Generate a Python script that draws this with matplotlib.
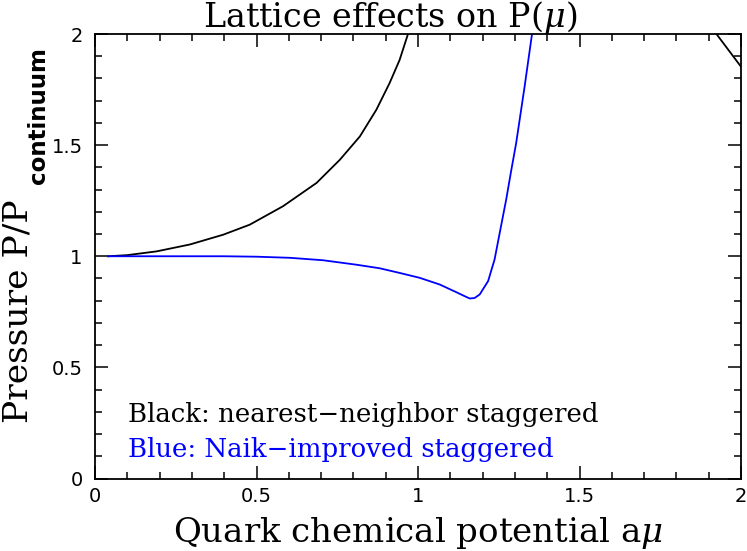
import numpy as np
import matplotlib
matplotlib.use("Agg")
import matplotlib.pyplot as plt
from matplotlib.ticker import MultipleLocator

# values (NaN splits the off-scale gap)
mu_black = [0.041, 0.100, 0.191, 0.294, 0.397, 0.479, 0.582, 0.686, 0.758,
            0.820, 0.871, 0.912, 0.943, 0.969, np.nan, 1.924, 2.000]
p_black = [1.000, 1.005, 1.022, 1.053, 1.097, 1.142, 1.225, 1.330, 1.434,
           1.539, 1.659, 1.779, 1.883, 2.000, np.nan, 2.000, 1.853]

mu_blue = [0.041, 0.200, 0.397, 0.500, 0.603, 0.706, 0.809, 0.881, 0.943,
           1.005, 1.067, 1.119, 1.145, 1.160, 1.175, 1.191, 1.217, 1.237,
           1.253, 1.273, 1.289, 1.304, 1.330, 1.353]
p_blue = [1.000, 1.000, 1.000, 0.998, 0.993, 0.982, 0.962, 0.946, 0.925,
          0.903, 0.873, 0.838, 0.820, 0.810, 0.812, 0.828, 0.888, 0.985,
          1.105, 1.255, 1.389, 1.510, 1.763, 2.000]

ticks = [0, 0.5, 1, 1.5, 2]
tick_labels = ["0", "0.5", "1", "1.5", "2"]

plt.rcParams.update({
    "font.family": "DejaVu Serif",
    "mathtext.fontset": "dejavuserif",
    "xtick.direction": "in",
    "ytick.direction": "in",
    "xtick.top": True,
    "ytick.right": True,
})

W, H = 747, 551
fig = plt.figure(figsize=(W / 100, H / 100), dpi=100)
ax = fig.add_axes([95 / W, 1 - 478.5 / H, (741 - 95) / W, (478.5 - 34) / H])

ax.plot(mu_black, p_black, color="black", lw=1.3)
ax.plot(mu_blue, p_blue, color="#0000ff", lw=1.3)

ax.set_xlim(0, 2)
ax.set_ylim(0, 2)
ax.xaxis.set_minor_locator(MultipleLocator(0.1))
ax.yaxis.set_minor_locator(MultipleLocator(0.1))
ax.set_xticks(ticks, tick_labels, family="DejaVu Sans")
ax.set_yticks(ticks, tick_labels, family="DejaVu Sans")
ax.tick_params(which="major", length=9.5, width=1.1, labelsize=14)
ax.tick_params(axis="x", which="major", pad=6)
ax.tick_params(axis="y", which="major", pad=9)
ax.tick_params(which="minor", length=5, width=1.1)
for s in ax.spines.values():
    s.set_linewidth(1.3)

ax.text(0.102, 0.252, "Black: nearest\u2212neighbor staggered",
        color="black", fontsize=18.7, va="baseline", ha="left")
ax.text(0.102, 0.095, "Blue: Naik\u2212improved staggered",
        color="#0000ff", fontsize=18.7, va="baseline", ha="left")

fig.text(390 / W, 1 - 27 / H, r"Lattice effects on P($\mu$)",
         fontsize=24, ha="center", va="baseline")
fig.text(418 / W, 1 - 542 / H, r"Quark chemical potential a$\mu$",
         fontsize=24.5, ha="center", va="baseline")
# y label: main part plus a bold sans subscript
fig.text(27 / W, 1 - 423 / H, "Pressure P/P",
         fontsize=24.8, ha="left", va="baseline", rotation=90,
         rotation_mode="anchor")
fig.text(45 / W, 1 - 184 / H, "continuum",
         fontsize=16.5, ha="left", va="baseline", rotation=90,
         rotation_mode="anchor", family="DejaVu Sans", weight="bold")

fig.savefig("out.png", dpi=100)
